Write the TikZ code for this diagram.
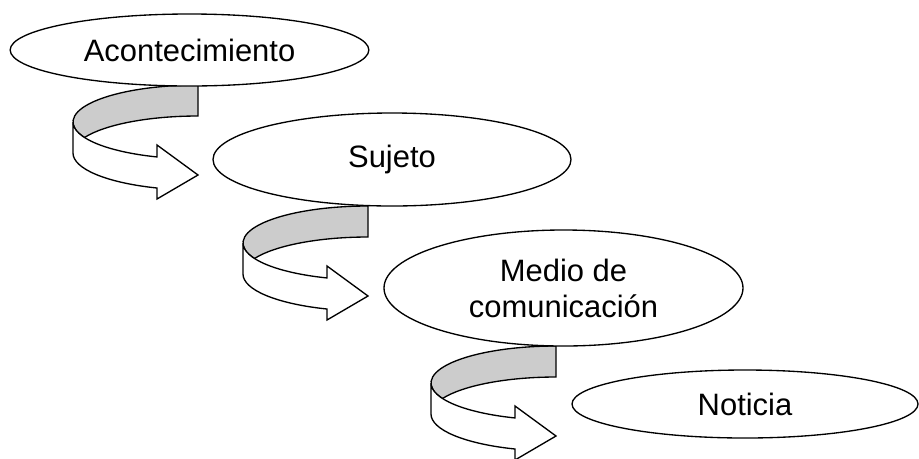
\documentclass[tikz,border=0pt]{standalone}
\usepackage{fontspec}
\setmainfont{Liberation Sans}
\usetikzlibrary{shapes.geometric}

\definecolor{bandgray}{RGB}{204,204,204}

\tikzset{every picture/.style={line width=0.75pt}}
\tikzset{
	etapa/.style={draw, ellipse, fill=white, inner sep=0pt, align=center, line width=1pt, font=\fontsize{23.2}{27}\selectfont},
	band/.style={line width=1pt},
}

% curved ribbon arrow, #1 = top right corner of its back band
\newcommand{\curvedarrow}[1]{%
	\begin{scope}[shift={#1}]
		%back of the band
		\draw [band, fill=bandgray] (0,0) arc [start angle=270, end angle=155.23, x radius=125, y radius=37]
			arc [start angle=204.77, end angle=270, x radius=125, y radius=37] -- cycle ;
		%front of the band with the head
		\draw [band, fill=white] (-125,37) arc [start angle=180, end angle=109.15, x radius=125, y radius=37]
			-- (-41,60) -- (0,90) -- (-41,114) -- (-41,103)
			arc [start angle=109.15, end angle=180, x radius=125, y radius=37] -- cycle ;
	\end{scope}%
}

\begin{document}
\begin{tikzpicture}[x=0.75pt,y=0.75pt,yscale=-1,xscale=1]
	\useasboundingbox (0,0) rectangle (919,458);

	%Shape: Curved Arrow
	\curvedarrow{(198,85)}
	%Shape: Curved Arrow
	\curvedarrow{(368,206)}
	%Shape: Curved Arrow
	\curvedarrow{(556,346)}

	% Ellipse Nodes
	\node [etapa, minimum width=269pt, minimum height=54pt] (acont) at (189.5,50) {Acontecimiento};
	\node [etapa, minimum width=268.5pt, minimum height=69.75pt] (sujeto) at (392,159.5) {Sujeto};
	\node [etapa, minimum width=269.25pt, minimum height=87pt] (medio) at (563.5,288) {Medio de\\comunicación};
	\node [etapa, minimum width=259.5pt, minimum height=51pt] (noticia) at (745,404) {Noticia};

\end{tikzpicture}
\end{document}
